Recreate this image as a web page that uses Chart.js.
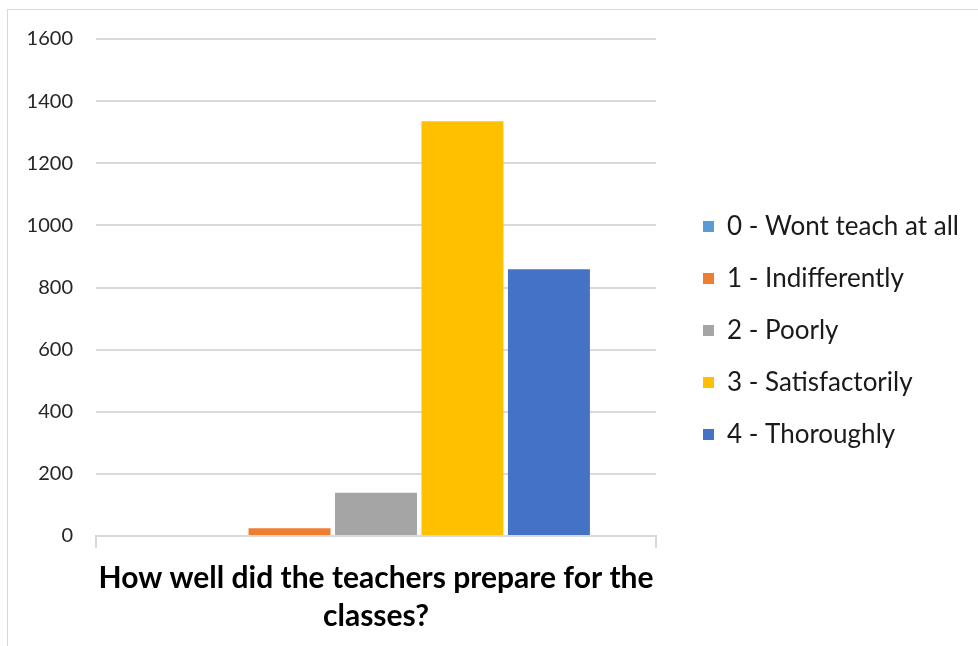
<!DOCTYPE html>
<html>
<head>
<meta charset="utf-8">
<script src="https://cdn.jsdelivr.net/npm/chart.js@4.4.1/dist/chart.umd.min.js"></script>
<style>
  html, body { margin: 0; padding: 0; background: #ffffff; overflow: hidden; }
  #wrap { position: relative; width: 978px; height: 646px; }
  #frame { position: absolute; left: 7px; top: 9px; width: 1200px; height: 900px; border: 1px solid #d9d9d9; box-sizing: border-box; }
  canvas { position: absolute; left: 0; top: 0; }
</style>
</head>
<body>
<div id="wrap">
  <div id="frame"></div>
  <canvas id="c" width="978" height="646"></canvas>
</div>
<script>
const categories = [["How well did the teachers prepare for the", "classes?"]];
const seriesNames = ["0 - Wont teach at all", "1 - Indifferently", "2 - Poorly", "3 - Satisfactorily", "4 - Thoroughly"];
const seriesValues = [[0], [25], [139], [1335], [859]];
const seriesColors = ["#5B9BD5", "#ED7D31", "#A5A5A5", "#FFC000", "#4472C4"];
const yTicks = [0, 200, 400, 600, 800, 1000, 1200, 1400, 1600];

const FONT = "Lato, 'Open Sans', sans-serif";
const LEGEND_WIDTH = 322;   // space reserved right of the plot area
const LEGEND_DX = 21;       // legend items offset inside that space
const LEGEND_DY = -12;

const legendLayout = {
  id: 'legendLayout',
  beforeLayout(chart) {
    const lg = chart.legend;
    if (lg && !lg._fixedFit) {
      const orig = lg.fit.bind(lg);
      lg.fit = function () { orig(); this.width = LEGEND_WIDTH; };
      lg._fixedFit = true;
    }
  },
  afterLayout(chart) {
    const lg = chart.legend;
    if (!lg) return;
    lg.left += LEGEND_DX; lg.right += LEGEND_DX;
    lg.top += LEGEND_DY; lg.bottom += LEGEND_DY;
  }
};

new Chart(document.getElementById('c'), {
  type: 'bar',
  data: {
    labels: categories,
    datasets: seriesNames.map((n, i) => ({
      label: n,
      data: seriesValues[i],
      backgroundColor: seriesColors[i],
      borderWidth: 0,
      categoryPercentage: 0.772,
      barPercentage: 0.948
    }))
  },
  options: {
    responsive: false,
    animation: false,
    devicePixelRatio: 1,
    layout: { padding: { top: 39, right: 0, bottom: 0, left: 0 } },
    plugins: {
      title: { display: false },
      tooltip: { enabled: false },
      legend: {
        position: 'right',
        align: 'center',
        labels: {
          boxWidth: 11,
          boxHeight: 11,
          padding: 26,
          color: '#1a1a1a',
          font: { family: FONT, size: 26 }
        }
      }
    },
    scales: {
      x: {
        afterFit(scale) { scale.height = 110; },
        grid: { display: true, drawOnChartArea: false, drawTicks: true, tickLength: 12, color: '#d9d9d9', lineWidth: 2 },
        border: { display: true, color: '#d9d9d9', width: 2 },
        ticks: {
          color: '#000000',
          padding: 12,
          maxRotation: 0,
          autoSkip: false,
          font: { family: FONT, size: 30, weight: 'bold', lineHeight: 1.25 }
        }
      },
      y: {
        min: 0,
        max: 1600,
        afterFit(scale) { scale.width = 96; },
        afterBuildTicks(scale) { scale.ticks = yTicks.map(v => ({ value: v })); },
        grid: { color: '#d9d9d9', lineWidth: 2, drawTicks: false },
        border: { display: false },
        ticks: {
          color: '#262626',
          padding: 23,
          font: { family: FONT, size: 20 },
          callback: (v) => String(v)
        }
      }
    }
  },
  plugins: [legendLayout]
});
</script>
</body>
</html>
